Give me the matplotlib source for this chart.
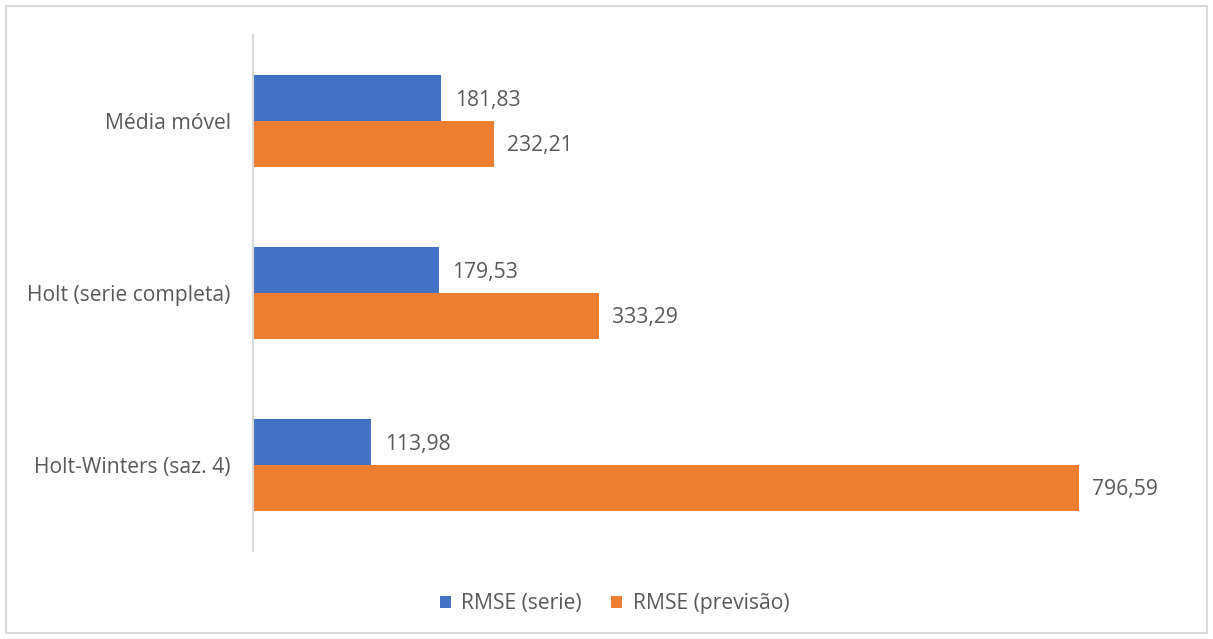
import matplotlib
matplotlib.use("Agg")
import matplotlib.pyplot as plt
from matplotlib.patches import Rectangle
import numpy as np

categories = ["Média móvel", "Holt (serie completa)", "Holt-Winters (saz. 4)"]
rmse_serie = [181.83, 179.53, 113.98]
rmse_previsao = [232.21, 333.29, 796.59]
series_names = ["RMSE (serie)", "RMSE (previsão)"]

BLUE = "#4472C4"
ORANGE = "#ED7D31"
TXT = "#595959"
FONT = "Open Sans"
FS = 15.2

plt.rcParams['font.family'] = [FONT, 'DejaVu Sans']

W, H = 1213, 639
fig = plt.figure(figsize=(W / 100, H / 100), dpi=100)
fig.patch.set_facecolor("white")

# outer chart border
fig.patches.append(Rectangle((6 / W, 6 / H), (1207 - 6) / W, (633 - 6) / H,
                             transform=fig.transFigure, fill=False,
                             edgecolor="#D9D9D9", linewidth=1.5))

ax = fig.add_axes([253 / W, 1 - 551 / H, (1186 - 253) / W, (551 - 35) / H])
y = np.arange(len(categories))
h = 0.265
ax.barh(y - h / 2, rmse_serie, height=h, color=BLUE, label=series_names[0])
ax.barh(y + h / 2, rmse_previsao, height=h, color=ORANGE, label=series_names[1])

def fmt(v):
    return f"{v:.2f}".replace(".", ",")

dy = 0.012
for yi, v in zip(y, rmse_serie):
    ax.text(v + 13, yi - h / 2 + dy, fmt(v), va="center", ha="left", color=TXT,
            fontsize=FS)
for yi, v in zip(y, rmse_previsao):
    ax.text(v + 13, yi + h / 2 + dy, fmt(v), va="center", ha="left", color=TXT,
            fontsize=FS)

ax.set_xlim(0, 900)
ax.set_ylim(2.5, -0.5)
ax.set_yticks(y)
ax.set_yticklabels(categories, color=TXT, fontsize=FS)
ax.tick_params(axis="y", length=0, pad=16)
ax.set_xticks([])
for s in ["top", "right", "bottom"]:
    ax.spines[s].set_visible(False)
ax.spines["left"].set_color("#D9D9D9")
ax.spines["left"].set_linewidth(1.5)

fig.legend(loc="center", bbox_to_anchor=(0.5 + 8 / W, 1 - 604 / H), ncol=2,
           frameon=False, fontsize=FS, labelcolor=TXT, handlelength=0.52,
           handleheight=0.52, handletextpad=0.48, columnspacing=1.42)

fig.savefig("out.png", dpi=100)
